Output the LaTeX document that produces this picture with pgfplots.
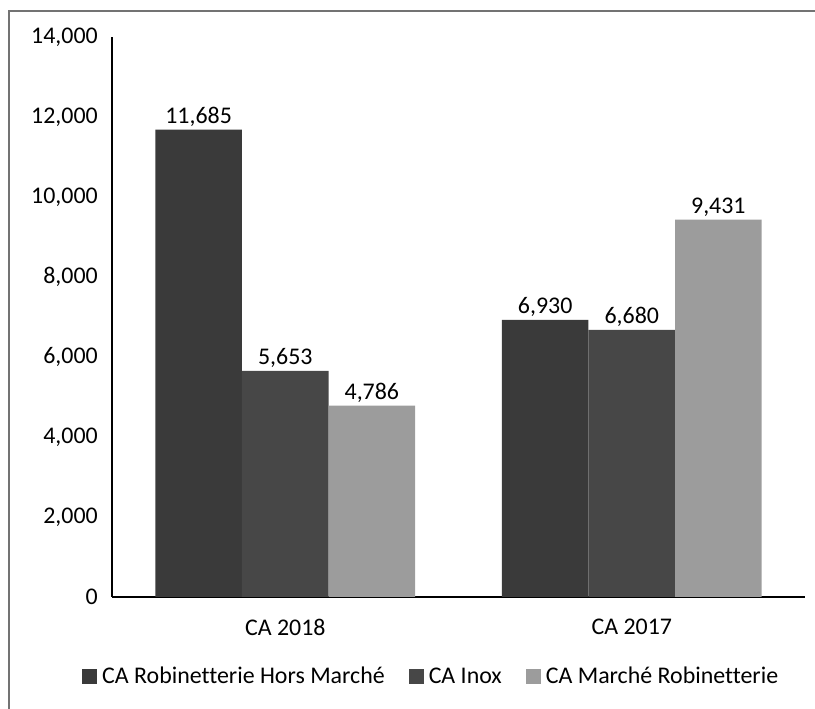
\documentclass[border=0pt]{standalone}
\usepackage{pgfplots}
\pgfplotsset{compat=1.18}
\usepackage{fontspec}
\setmainfont{Carlito}[Ligatures=NoCommon]
\definecolor{sA}{HTML}{3A3A3A}
\definecolor{sB}{HTML}{474747}
\definecolor{sC}{HTML}{9C9C9C}
\begin{document}
\fontsize{24}{28}\selectfont
\begin{tikzpicture}[x=1bp,y=1bp]
\path[use as bounding box] (0,0) rectangle (815,709);
\draw[line width=1.5bp, color=black!55] (9,0) -- (9,698) -- (815,698);
\begin{axis}[
  at={(112bp,112bp)}, anchor=south west,
  scale only axis, width=693bp, height=560bp,
  ybar=0pt, bar width=86.6bp,
  xmin=-0.5, xmax=1.5, ymin=0, ymax=14000,
  xtick={0,1}, xticklabels={CA 2018, CA 2017},
  ytick={0,2000,...,14000},
  axis x line=bottom, axis y line=left,
  axis line style={-, line width=1.3bp, black},
  major tick length=0pt,
  /pgf/number format/assume math mode=true,
  /pgf/number format/1000 sep={,},
  yticklabel style={anchor=east, inner sep=0pt, xshift=-14bp, font=\fontsize{24}{28}\selectfont},
  xticklabel style={anchor=north, inner sep=0pt, yshift=-22bp, font=\fontsize{24}{28}\selectfont},
  scaled y ticks=false,
  nodes near coords,
  nodes near coords style={font=\fontsize{24}{28}\selectfont, anchor=south, inner sep=0pt, yshift=3bp},
  legend columns=3,
  legend style={draw=none, at={(axis description cs:-0.0433,0)}, anchor=west, yshift=-81bp, font=\fontsize{24}{28}\selectfont,
    nodes={inner sep=0pt, text height=0.72em, text depth=0.22em},
    /tikz/every odd column/.append style={column sep=5bp},
    /tikz/every even column/.append style={column sep=24bp}, inner sep=0pt},
  legend cell align=left,
]
\addplot[fill=sA, draw=none, legend image code/.code={\fill[sA] (0bp,-6.5bp) rectangle (15bp,8.5bp);}] coordinates {(0,11685) (1,6930)};
\addplot[fill=sB, draw=none, legend image code/.code={\fill[sB] (0bp,-6.5bp) rectangle (15bp,8.5bp);}] coordinates {(0,5653) (1,6680)};
\addplot[fill=sC, draw=none, legend image code/.code={\fill[sC] (0bp,-6.5bp) rectangle (15bp,8.5bp);}] coordinates {(0,4786) (1,9431)};
\legend{CA Robinetterie Hors Marché, CA Inox, CA Marché Robinetterie}
\end{axis}
\end{tikzpicture}
\end{document}
